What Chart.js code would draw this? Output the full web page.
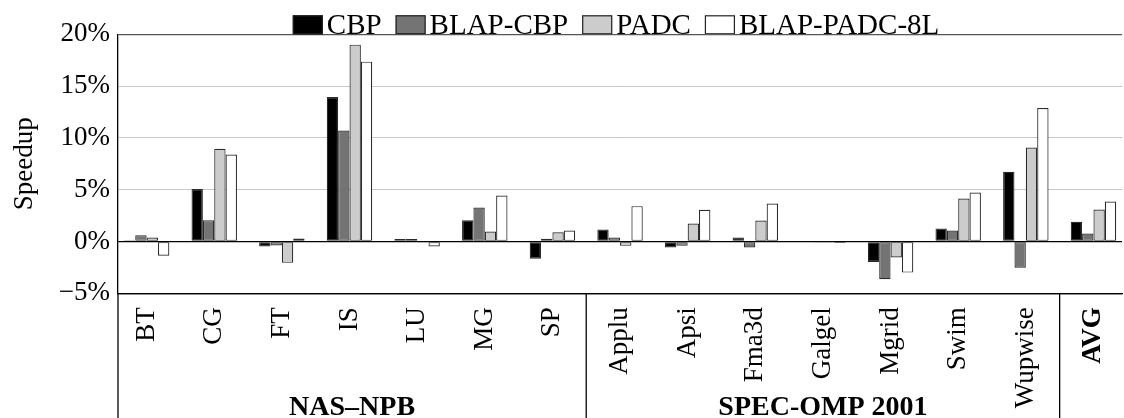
<!DOCTYPE html>
<html>
<head>
<meta charset="utf-8">
<script src="https://cdn.jsdelivr.net/npm/chart.js@4"></script>
<style>
  html, body { margin: 0; padding: 0; background: #fff; overflow: hidden; }
  #wrap { width: 1140px; height: 418px; }
</style>
</head>
<body>
<div id="wrap"><canvas id="speedupChart"></canvas></div>
<script>
const categories = ['BT', 'CG', 'FT', 'IS', 'LU', 'MG', 'SP', 'Applu', 'Apsi', 'Fma3d', 'Galgel', 'Mgrid', 'Swim', 'Wupwise', 'AVG'];
const cbp        = [0.13, 5.06, -0.48, 13.95, 0.23, 2.06, -1.67, 1.16, -0.58, 0.39, -0.08, -1.97, 1.26, 6.73, 1.90];
const blapCbp    = [0.60, 2.06, -0.39, 10.72, 0.23, 3.28, 0.26, 0.39, -0.42, -0.58, -0.05, -3.64, 1.06, -2.54, 0.77];
const padc       = [0.39, 8.95, -2.06, 19.00, -0.10, 0.97, 0.90, -0.42, 1.74, 2.03, -0.02, -1.55, 4.15, 9.08, 3.09];
const blapPadc8l = [-1.38, 8.40, 0.29, 17.36, -0.48, 4.44, 1.06, 3.41, 3.06, 3.67, -0.15, -3.00, 4.73, 12.88, 3.86];
const seriesNames = ['CBP', 'BLAP-CBP', 'PADC', 'BLAP-PADC-8L'];
const seriesColors = ['#000000', '#747474', '#cccccc', '#ffffff'];

// benchmark suites: name plus first/last index into categories
const groupNames = ['NAS–NPB', 'SPEC-OMP 2001'];
const groupFirst = [0, 7];
const groupLast  = [6, 13];

const yTicks = [-5, 0, 5, 10, 15, 20];

const SERIF = "'Liberation Serif', 'Times New Roman', serif";

function toPoints(values) {
    return values.map((v, i) => ({ x: i, y: v }));
}

// legend drawn above the frame, boxes sitting on the top line
const topLegend = {
    id: 'topLegend',
    afterDraw(chart) {
        const ctx = chart.ctx;
        const area = chart.chartArea;
        const boxW = 30, boxH = 19, textGap = 4, itemGap = 14;
        ctx.save();
        ctx.font = '29px ' + SERIF;
        const widths = seriesNames.map(n => ctx.measureText(n).width);
        let total = 0;
        widths.forEach((w, i) => { total += boxW + textGap + w + (i < widths.length - 1 ? itemGap : 0); });
        let x = (area.left + area.right) / 2 - total / 2 - 4;
        const base = area.top;
        seriesNames.forEach((name, i) => {
            ctx.fillStyle = seriesColors[i];
            ctx.fillRect(x, base - boxH, boxW, boxH);
            ctx.strokeStyle = '#222';
            ctx.lineWidth = 1.2;
            ctx.strokeRect(x + 0.5, base - boxH + 0.5, boxW - 1, boxH - 1);
            ctx.fillStyle = '#000';
            ctx.textBaseline = 'alphabetic';
            ctx.textAlign = 'left';
            ctx.fillText(name, x + boxW + textGap, base);
            x += boxW + textGap + widths[i] + itemGap;
        });
        ctx.restore();
    }
};

// suite separators and suite names under the tick labels
const suiteLabels = {
    id: 'suiteLabels',
    afterDraw(chart) {
        const ctx = chart.ctx;
        const area = chart.chartArea;
        const xs = chart.scales.x;
        const bottom = chart.height;
        ctx.save();
        ctx.strokeStyle = '#000';
        ctx.lineWidth = 1.3;
        const seps = [area.left];
        groupLast.forEach(i => seps.push(xs.getPixelForValue(i + 0.5)));
        seps.forEach(px => {
            ctx.beginPath();
            ctx.moveTo(px, area.bottom);
            ctx.lineTo(px, bottom);
            ctx.stroke();
        });
        ctx.fillStyle = '#000';
        ctx.font = 'bold 28px ' + SERIF;
        ctx.textAlign = 'center';
        ctx.textBaseline = 'alphabetic';
        groupNames.forEach((name, g) => {
            const left = groupFirst[g] === 0 ? area.left : xs.getPixelForValue(groupFirst[g] - 0.5);
            const right = xs.getPixelForValue(groupLast[g] + 0.5);
            ctx.fillText(name, (left + right) / 2, 415);
        });
        ctx.restore();
    }
};

const ctx = document.getElementById('speedupChart').getContext('2d');
new Chart(ctx, {
    type: 'bar',
    data: {
        datasets: [cbp, blapCbp, padc, blapPadc8l].map((vals, i) => ({
            label: seriesNames[i],
            data: toPoints(vals),
            backgroundColor: seriesColors[i],
            borderColor: '#2a2a2a',
            borderWidth: 1.2,
            borderSkipped: false,
            categoryPercentage: 0.672,
            barPercentage: 1.0
        }))
    },
    plugins: [topLegend, suiteLabels],
    options: {
        responsive: true,
        maintainAspectRatio: false,
        animation: false,
        devicePixelRatio: 1,
        layout: { padding: { top: 34.3, right: 5, bottom: 0, left: 0 } },
        plugins: {
            legend: { display: false },
            tooltip: { enabled: false }
        },
        scales: {
            x: {
                type: 'linear',
                offset: false,
                min: -0.423,
                max: 14.423,
                afterBuildTicks: (scale) => {
                    scale.ticks = categories.map((_, i) => ({ value: i }));
                },
                afterFit: (scale) => { scale.height = 418 - 293.3; },
                grid: { display: false, drawTicks: false },
                border: { display: true, color: '#000', width: 1.3 },
                ticks: {
                    autoSkip: false,
                    minRotation: 90,
                    maxRotation: 90,
                    padding: 14,
                    color: '#000',
                    font: (c) => ({
                        family: SERIF,
                        size: 27,
                        weight: c.index === categories.length - 1 ? 'bold' : 'normal'
                    }),
                    callback: (v) => categories[v]
                }
            },
            y: {
                min: -5,
                max: 20,
                afterBuildTicks: (scale) => {
                    scale.ticks = yTicks.map(v => ({ value: v }));
                },
                afterFit: (scale) => { scale.width = 118; },
                grid: {
                    drawTicks: false,
                    color: (c) => {
                        const v = c.tick.value;
                        if (v === 0 || v === -5) return '#000';
                        if (v === 20) return '#555';
                        return '#c8c8c8';
                    },
                    lineWidth: (c) => (c.tick.value === 0 || c.tick.value === -5 || c.tick.value === 20) ? 1.3 : 1
                },
                border: { display: true, color: '#000', width: 1.3 },
                ticks: {
                    padding: 8,
                    color: '#000',
                    font: { family: SERIF, size: 27 },
                    callback: (v) => (v < 0 ? '\u2212' + Math.abs(v) : v) + '%'
                },
                title: {
                    display: true,
                    text: 'Speedup',
                    color: '#000',
                    font: { family: SERIF, size: 27 },
                    padding: { top: 9, bottom: 0 }
                }
            }
        }
    }
});
</script>
</body>
</html>
